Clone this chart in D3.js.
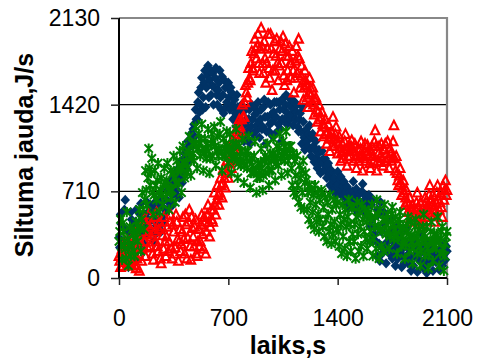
<!DOCTYPE html>
<html>
<head>
<meta charset="utf-8">
<script src="https://cdn.jsdelivr.net/npm/d3@7"></script>
<style>
  html, body { margin: 0; padding: 0; background: #fff; }
  svg { display: block; }
</style>
</head>
<body>
<svg id="chart" width="483" height="360"></svg>
<script>
// Sampling times, seconds (every 5 s from 0 to 2100)
const times = d3.range(0, 2101, 5);

// Heat flow, J/s — series 1 (navy diamonds), one row per 100 s
const seriesBlue = [
  330,250,520,440,180,300,410,560,640,400,260,180,90,300,370,540,480,140,220,410,
  300,460,560,250,150,380,420,520,610,480,350,220,280,440,500,360,620,540,390,600,
  470,380,560,480,300,560,620,360,430,600,520,420,650,500,380,620,580,460,640,520,
  560,640,720,560,620,760,800,700,680,600,760,820,860,680,720,780,900,660,820,950,
  940,780,860,980,1020,940,900,1060,1120,960,1000,1080,1180,1120,1080,1220,1260,1160,1380,1300,
  1300,1440,1520,1360,1420,1560,1640,1380,1480,1600,1700,1400,1560,1660,1740,1480,1620,1700,1500,1580,
  1680,1420,1560,1640,1720,1500,1420,1540,1600,1700,1480,1380,1650,1500,1350,1620,1560,1400,1440,1560,
  1600,1480,1380,1560,1520,1420,1300,1400,1460,1350,1240,1500,1400,1300,1180,1280,1350,1420,1260,1160,
  1120,1260,1380,1300,1200,1140,1300,1380,1100,1240,1420,1300,1180,1400,1340,1200,1250,1360,1440,1280,
  1150,1300,1380,1220,1240,1400,1460,1320,1100,1200,1320,1440,1200,1260,1420,1340,1280,1160,1360,1440,
  1180,1320,1440,1200,1260,1440,1380,1220,1120,1300,1470,1380,1300,1420,1500,1260,1350,1480,1420,1300,
  1330,1400,1460,1250,1380,1440,1300,1360,1420,1240,1200,1300,1350,1200,1100,1400,1280,1150,1050,1200,
  1220,1120,1080,1180,1250,1050,1000,1150,1180,1080,950,1050,1120,980,900,1020,1050,940,860,960,
  1040,940,880,980,980,880,820,920,940,840,760,860,880,780,720,800,820,740,680,760,
  870,770,710,810,830,710,670,750,790,670,610,710,750,650,570,670,710,610,630,710,
  790,670,570,650,730,610,530,630,690,570,610,710,770,630,550,610,670,590,510,650,
  680,420,300,600,480,340,640,360,420,300,180,560,520,280,140,620,380,200,240,540,
  440,280,120,240,350,300,200,360,480,240,160,400,300,200,100,260,420,160,220,320,
  360,200,90,240,280,120,160,300,400,260,120,200,240,160,60,300,330,100,180,260,
  300,180,50,160,250,200,140,260,350,220,80,150,220,300,40,120,290,180,120,240,
  260,160,60,140,200,300,130,220,320,180,70,200,240,140,100,220,280,200,150,260,
  220
];

// Heat flow, J/s — series 2 (red triangles), one row per 100 s
const seriesRed = [
  180,140,90,200,240,100,130,260,300,200,160,120,220,300,110,180,270,100,150,220,
  200,380,80,160,330,260,60,300,420,140,250,380,480,300,180,440,360,250,520,420,
  260,340,440,200,150,500,380,300,540,260,220,400,460,160,120,420,350,240,500,300,
  180,340,420,220,300,460,520,240,160,440,380,200,250,520,460,320,140,300,400,220,
  280,380,500,320,200,520,440,160,330,460,560,260,150,500,410,340,260,420,480,200,
  180,300,400,260,300,440,520,360,240,500,460,200,380,520,600,460,340,420,560,480,
  460,560,700,600,520,640,760,680,600,700,820,760,660,780,900,820,740,860,960,880,
  820,940,1060,960,900,1020,1140,1060,980,1100,1220,1160,1080,1180,1300,1240,1200,1300,1420,1320,
  1320,1440,1580,1520,1480,1600,1720,1640,1620,1760,1860,1720,1700,1840,1960,1880,1800,1900,2000,1760,
  1680,1880,2050,1900,1760,1680,1940,1800,1600,1760,1880,2000,1720,1640,2000,1880,1540,1700,1840,1940,
  1700,1820,1960,1760,1620,1740,1880,1940,1760,1860,1980,1660,1580,1920,1820,1620,1700,1820,1900,1760,
  1640,1760,1860,1700,1520,1640,1780,1900,1680,1820,1960,1800,1560,1660,1740,1600,1460,1560,1700,1620,
  1580,1480,1400,1520,1640,1560,1500,1440,1560,1420,1340,1460,1480,1380,1280,1360,1420,1300,1200,1320,
  1360,1260,1160,1240,1300,1180,1100,1200,1260,1140,1040,1160,1200,1080,1320,1140,1080,1180,1240,1120,
  1020,1100,1160,1060,960,1030,1100,980,1040,1120,1180,1060,920,1000,1080,1040,1000,1080,1130,1060,
  960,1040,1100,980,900,1000,1060,960,1000,1060,1120,1000,880,980,1040,1100,960,1020,1090,1040,
  1000,940,900,1040,1080,1000,960,1120,1210,1080,880,960,1020,1080,950,1000,1100,980,920,1060,
  1050,1100,960,1020,1120,980,900,1060,1020,960,980,1120,1250,980,880,1000,860,800,760,840,
  900,780,680,740,800,700,600,660,720,620,540,600,660,580,500,560,600,520,460,520,
  560,620,700,580,480,540,620,500,420,480,540,600,660,560,500,580,600,680,760,640,
  520,600,680,560,460,540,620,700,760,640,560,620,700,580,500,760,640,720,800,680,
  720
];

// Heat flow, J/s — series 3 (green asterisks), one row per 100 s
const seriesGreen = [
  300,380,480,260,150,450,380,300,240,160,540,320,100,260,420,180,260,400,350,220,
  180,320,460,380,300,420,560,400,220,480,700,560,400,640,880,720,600,820,1060,900,
  760,860,980,700,520,680,880,760,640,800,940,700,540,720,820,680,600,760,900,780,
  660,800,940,740,560,720,880,660,720,860,1000,820,620,780,960,880,780,920,1040,880,
  700,900,1080,940,820,940,1020,860,900,1040,1160,1000,840,980,1100,1020,960,1100,1240,1080,
  900,1060,1180,1100,1000,1140,1260,1060,880,1020,1140,1060,980,1100,1220,1040,860,980,1100,1180,
  1000,1120,1240,1080,920,1040,1160,1000,1060,1180,1280,1040,880,1000,1140,1060,1000,1100,1200,1080,
  940,1060,1180,1020,860,980,1100,1040,980,1100,1220,960,820,940,1080,1000,920,1040,1140,960,
  780,920,1040,980,900,1040,1160,960,740,860,980,920,860,1000,1120,880,700,820,940,880,
  820,940,1060,900,720,840,960,1000,860,980,1100,920,760,880,1020,960,880,1020,1140,980,
  800,940,1080,1000,920,1060,1180,980,840,1000,1120,1040,960,1080,1200,1020,860,960,1080,1020,
  1080,900,760,1020,700,960,840,680,1000,760,620,920,820,580,880,700,960,560,780,860,
  800,560,700,480,760,620,440,720,540,680,400,760,600,460,700,520,380,640,480,720,
  700,420,580,340,660,480,300,620,520,380,680,440,280,560,360,640,460,300,600,400,
  620,380,260,520,440,200,600,340,480,240,560,420,180,500,640,300,440,220,580,360,
  580,300,440,160,500,620,360,220,540,420,260,600,480,180,380,560,320,460,240,520,
  540,300,380,480,600,180,320,420,500,240,640,520,420,160,560,400,260,380,480,220,
  600,480,360,440,520,380,240,340,460,520,580,440,320,400,500,360,200,320,440,480,
  540,400,260,340,420,300,160,280,380,440,500,360,220,340,460,300,120,240,340,420,
  480,340,200,300,400,260,100,220,320,420,520,360,180,300,420,240,80,200,300,380,
  460,300,140,260,360,300,240,360,500,300,100,200,320,380,420,240,60,180,280,340,
  380
];

// Axis ticks
const xTicks = [0, 700, 1400, 2100];
const yTicks = [0, 710, 1420, 2130];

const xTitle = "laiks,s";
const yTitle = "Siltuma jauda,J/s";

const svg = d3.select("#chart");
const plotLeft = 119, plotRight = 447, plotTop = 18, plotBottom = 278;

const x = d3.scaleLinear().domain([0, 2100]).range([plotLeft, plotRight]);
const y = d3.scaleLinear().domain([0, 2130]).range([plotBottom, plotTop]);

const FONT = "'Liberation Sans', Arial, sans-serif";

// Horizontal gridlines
svg.append("g")
  .selectAll("line")
  .data(yTicks.filter(d => d > 0 && d < 2130))
  .join("line")
  .attr("x1", plotLeft).attr("x2", plotRight)
  .attr("y1", d => y(d)).attr("y2", d => y(d))
  .attr("stroke", "#000").attr("stroke-width", 1.2);

// Plot border (top and right) in grey
svg.append("path")
  .attr("d", `M${plotLeft},${y(2130)}H${plotRight}V${plotBottom}`)
  .attr("fill", "none")
  .attr("stroke", "#888").attr("stroke-width", 2.2);

// Custom marker shapes
const diamond = {
  draw(ctx) {
    ctx.moveTo(0, -5.2); ctx.lineTo(4.8, 0); ctx.lineTo(0, 5.2); ctx.lineTo(-4.8, 0); ctx.closePath();
  }
};
const triangle = {
  draw(ctx) {
    ctx.moveTo(0, -4.6); ctx.lineTo(4.3, 3.9); ctx.lineTo(-4.3, 3.9); ctx.closePath();
  }
};
const asterisk = {
  draw(ctx) {
    ctx.moveTo(-4.2, -4.2); ctx.lineTo(4.2, 4.2);
    ctx.moveTo(4.2, -4.2); ctx.lineTo(-4.2, 4.2);
    ctx.moveTo(0, -5.2); ctx.lineTo(0, 5.2);
  }
};

const marks = svg.append("g");

function drawSeries(values, shape, attrs) {
  const path = d3.symbol().type(shape)();
  const sel = marks.append("g")
    .selectAll("path")
    .data(values.map((v, i) => [times[i], v]))
    .join("path")
    .attr("transform", d => `translate(${x(d[0])},${y(d[1])})`)
    .attr("d", path);
  Object.entries(attrs).forEach(([k, v]) => sel.attr(k, v));
}

drawSeries(seriesBlue, diamond, { fill: "#003366" });
drawSeries(seriesRed, triangle, { fill: "none", stroke: "#ff0000", "stroke-width": 2.1, "stroke-linejoin": "miter" });
drawSeries(seriesGreen, asterisk, { fill: "none", stroke: "#008000", "stroke-width": 2 });

// Axes
const yAxis = svg.append("g")
  .attr("transform", `translate(${plotLeft},0)`)
  .call(d3.axisLeft(y).tickValues(yTicks).tickSize(8).tickPadding(11).tickFormat(d3.format("d")));
const xAxis = svg.append("g")
  .attr("transform", `translate(0,${plotBottom})`)
  .call(d3.axisBottom(x).tickValues(xTicks).tickSize(7).tickPadding(25).tickFormat(d3.format("d")));

[xAxis, yAxis].forEach(g => {
  g.select(".domain").attr("stroke", "#000").attr("stroke-width", 2);
  g.selectAll(".tick line").attr("stroke", "#222").attr("stroke-width", 1.5);
  g.selectAll(".tick text")
    .attr("font-family", FONT).attr("font-size", 23).attr("fill", "#000");
});
yAxis.select(".domain").attr("d", `M0,${plotTop}V${plotBottom}`);
xAxis.select(".domain").attr("d", `M${plotLeft},0H${plotRight}`);

// Axis titles
svg.append("text")
  .attr("x", 288).attr("y", 354)
  .attr("text-anchor", "middle")
  .attr("font-family", FONT).attr("font-weight", "bold").attr("font-size", 25)
  .text(xTitle);

svg.append("text")
  .attr("transform", "translate(33,155) rotate(-90)")
  .attr("text-anchor", "middle")
  .attr("font-family", FONT).attr("font-weight", "bold").attr("font-size", 25)
  .text(yTitle);
</script>
</body>
</html>
